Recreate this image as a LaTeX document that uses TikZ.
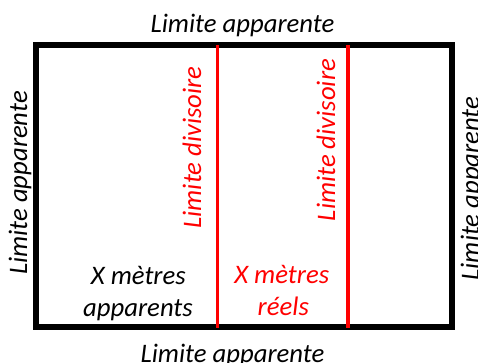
\documentclass[tikz,border=0pt]{standalone}
\usepackage{fontspec}
\setmainfont{Carlito}
\begin{document}
\begin{tikzpicture}[x=1pt,y=-1pt,
  lbl/.style={inner sep=0pt,outer sep=0pt,anchor=base,font=\fontsize{26.7}{32}\selectfont\itshape},
  redlbl/.style={lbl,text=red},
  vlbl/.style={lbl,rotate=90},
  vredlbl/.style={redlbl,rotate=90},
  frame/.style={draw=black,line width=6pt},
  divline/.style={draw=red,line width=3.8pt}]
\useasboundingbox (0,0) rectangle (478,363);
\fill[white] (0,0) rectangle (478,363);
% frame
\draw[frame] (36,44.7) rectangle (451.7,327);
% dividing lines
\coordinate (d1t) at (217.5,45);
\coordinate (d1b) at (217.5,328);
\coordinate (d2t) at (348.3,45);
\coordinate (d2b) at (348.3,328);
\draw[divline] (d1t) -- (d1b);
\draw[divline] (d2t) -- (d2b);
% labels
\node[lbl] (top) at (242.5,32.3) {Limite apparente};
\node[lbl] (bottom) at (232.5,362) {Limite apparente};
\node[vlbl] (left) at (27,183) {Limite apparente};
\node[vlbl] (right) at (479,188.5) {Limite apparente};
\node[vredlbl] (div1) at (201,147.5) {Limite divisoire};
\node[vredlbl] (div2) at (335,140) {Limite divisoire};
\node[lbl] (app1) at (138.3,284.3) {X mètres};
\node[lbl] (app2) at (138,316.7) {apparents};
\node[redlbl] (reel1) at (281.7,283.3) {X mètres};
\node[redlbl] (reel2) at (283.3,315) {réels};
\end{tikzpicture}
\end{document}
